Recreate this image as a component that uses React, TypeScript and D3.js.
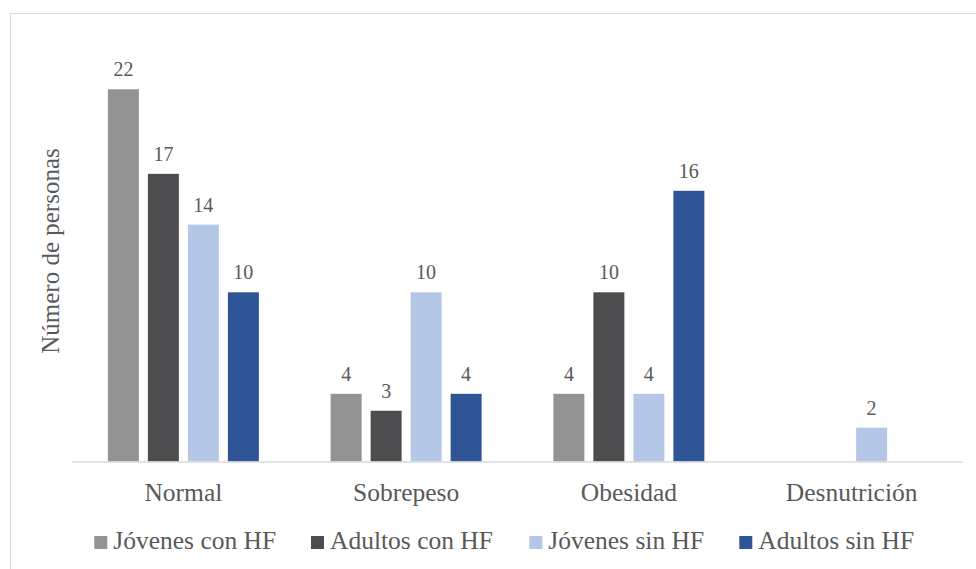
import React from "react";
import * as d3 from "d3";

// Categories along the x axis and the four series drawn in each group
const categories = ["Normal", "Sobrepeso", "Obesidad", "Desnutrición"];
const seriesNames = ["Jóvenes con HF", "Adultos con HF", "Jóvenes sin HF", "Adultos sin HF"];
const seriesColors = ["#939393", "#4d4d4f", "#b4c7e7", "#2f5597"];

// Counts per series, one value per category (null = no bar)
const jovenesConHF: (number | null)[] = [22, 4, 4, null];
const adultosConHF: (number | null)[] = [17, 3, 10, null];
const jovenesSinHF: (number | null)[] = [14, 10, 4, 2];
const adultosSinHF: (number | null)[] = [10, 4, 16, null];

const seriesValues = [jovenesConHF, adultosConHF, jovenesSinHF, adultosSinHF];
const yTitle = "Número de personas";
const yMax = 25;

const W = 976;
const H = 569;
const FONT = "Liberation Serif, Times New Roman, serif";
const TEXT = "#595959";

const plot = { left: 72, right: 963, top: 38.5, bottom: 461.5 };

// Legend row layout: left edge of each swatch
const legendLeft = [94.3, 311, 529.3, 739.3];

export default function App() {
  const x0 = d3.scaleBand<string>().domain(categories).range([plot.left, plot.right]).padding(0);
  const x1 = d3
    .scaleBand<string>()
    .domain(seriesNames)
    .range([0, x0.bandwidth()])
    .paddingInner(0.225)
    .paddingOuter(0.897);
  const y = d3.scaleLinear().domain([0, yMax]).range([plot.bottom, plot.top]);

  const font = (size: number) => ({ fontFamily: FONT, fontSize: size });

  return (
    <svg width={W} height={H} style={{ position: "absolute", left: 0, top: 0, background: "#fff" }}>
      <rect x={10.5} y={13.5} width={986} height={600} fill="#fff" stroke="#d9d9d9" strokeWidth={1} />

      {/* Bars and their value labels */}
      {categories.map((cat, ci) => (
        <g key={cat} transform={`translate(${x0(cat)},0)`}>
          {seriesNames.map((s, si) => {
            const v = seriesValues[si][ci];
            if (v == null) return null;
            const bx = x1(s)!;
            return (
              <g key={s}>
                <rect x={bx} y={y(v)} width={x1.bandwidth()} height={y(0) - y(v)} fill={seriesColors[si]} />
                <text
                  x={bx + x1.bandwidth() / 2}
                  y={y(v) - 13}
                  textAnchor="middle"
                  style={font(20)}
                  fill={TEXT}
                >
                  {v}
                </text>
              </g>
            );
          })}
        </g>
      ))}

      {/* Category axis */}
      <line x1={plot.left} x2={plot.right} y1={plot.bottom + 0.5} y2={plot.bottom + 0.5} stroke="#d9d9d9" strokeWidth={1.3} />
      {categories.map((cat) => (
        <text
          key={cat}
          x={x0(cat)! + x0.bandwidth() / 2}
          y={500.5}
          textAnchor="middle"
          style={font(25.5)}
          fill={TEXT}
        >
          {cat}
        </text>
      ))}

      {/* Value axis title */}
      <text
        transform={`translate(59,${(plot.top + plot.bottom) / 2 + 1}) rotate(-90)`}
        textAnchor="middle"
        style={font(25)}
        fill={TEXT}
      >
        {yTitle}
      </text>

      {/* Legend */}
      {seriesNames.map((name, i) => (
        <g key={name}>
          <rect x={legendLeft[i]} y={536} width={13} height={13} fill={seriesColors[i]} />
          <text x={legendLeft[i] + 19} y={549} style={font(25.5)} fill={TEXT}>
            {name}
          </text>
        </g>
      ))}
    </svg>
  );
}
